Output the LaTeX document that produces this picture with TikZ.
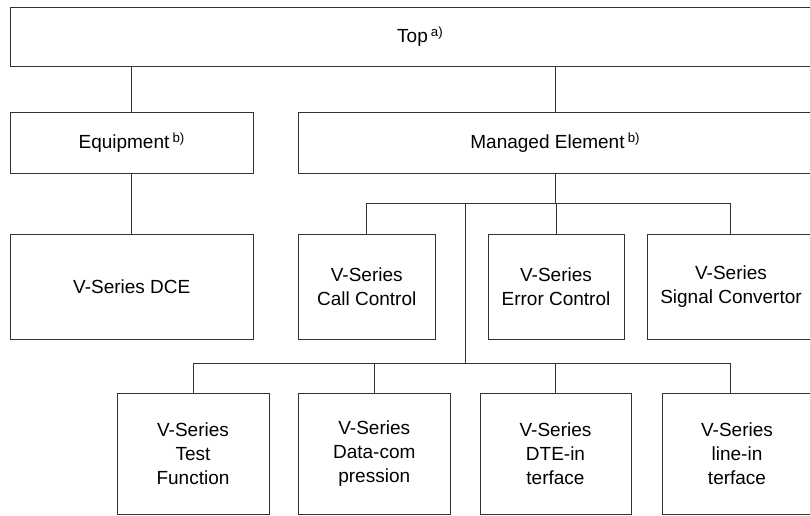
\documentclass[tikz,border=0pt]{standalone}
\usepackage{fontspec}
\setmainfont{Liberation Sans}
\begin{document}
\begin{tikzpicture}[x=1pt,y=-1pt,
  box/.style={draw=black!80, line width=0.8pt, align=center, inner sep=0pt,
    font=\fontsize{19}{24}\selectfont},
  conn/.style={draw=black!80, line width=0.8pt}]
\useasboundingbox (0,0) rectangle (810,515);
\begin{scope}
\clip (0,0) rectangle (810,515);
\node[box, minimum width=819.5pt, minimum height=59.5pt] (top) at (420.25,36.75) {Top\,\textsuperscript{a)}};
\node[box, minimum width=242.5pt, minimum height=60.5pt] (equip) at (131.75,142.75) {Equipment\,\textsuperscript{b)}};
\node[box, minimum width=513.5pt, minimum height=60.5pt] (managed) at (555.25,142.75) {Managed Element\,\textsuperscript{b)}};
\node[box, minimum width=242.5pt, minimum height=105pt] (dce) at (131.75,286.5) {V-Series DCE};
\node[box, minimum width=136.5pt, minimum height=105pt] (call) at (366.75,286.5) {V-Series\\Call Control};
\node[box, minimum width=136pt, minimum height=105pt] (error) at (556,286.5) {V-Series\\Error Control};
\node[box, minimum width=168pt, minimum height=105pt] (signal) at (731,286.5) {V-Series\\Signal Convertor};
\node[box, minimum width=152pt, minimum height=121pt] (test) at (193,453.5) {V-Series\\Test\\Function};
\node[box, minimum width=151.5pt, minimum height=121pt] (data) at (374.25,453.5) {V-Series\\Data-com\\pression};
\node[box, minimum width=151pt, minimum height=121pt] (dte) at (555.5,453.5) {V-Series\\DTE-in\\terface};
\node[box, minimum width=150pt, minimum height=121pt] (line) at (737,453.5) {V-Series\\line-in\\terface};
\coordinate (j1) at (465,203);
\coordinate (j2) at (465,363);
\coordinate (s1) at (730,203);
\coordinate (s2) at (730,363);
\draw[conn] (equip.north) -- (equip.north |- top.south);
\draw[conn] (managed.north) -- (managed.north |- top.south);
\draw[conn] (dce.north) -- (equip.south);
\draw[conn] (managed.south) -- (managed.south |- j1);
\draw[conn] (call.north) |- (s1) -- (s1 |- signal.north);
\draw[conn] (error.north) -- (error.north |- s1);
\draw[conn] (j1) -- (j2);
\draw[conn] (test.north) |- (s2) -- (s2 |- line.north);
\draw[conn] (data.north) -- (data.north |- s2);
\draw[conn] (dte.north) -- (dte.north |- s2);
\end{scope}
\end{tikzpicture}
\end{document}
